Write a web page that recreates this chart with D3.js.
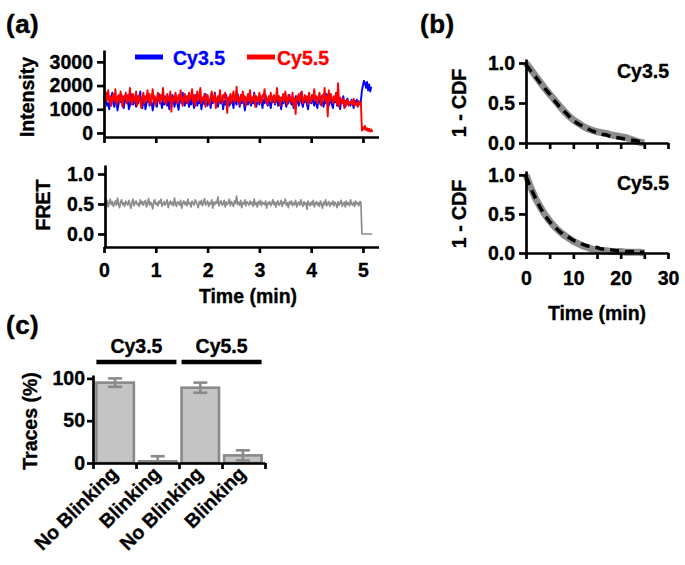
<!DOCTYPE html>
<html>
<head>
<meta charset="utf-8">
<script src="https://cdn.jsdelivr.net/npm/d3@7"></script>
<style>
  html, body { margin: 0; padding: 0; background: #fff; }
  svg text { font-family: "Liberation Sans", Arial, sans-serif; font-weight: bold; }
</style>
</head>
<body>
<svg id="chart" width="685" height="565"></svg>
<script>
// ---------------- DATA ----------------
// Panel (a): time traces, one sample every frameInterval minutes
const frameInterval = 0.02;
const cy35Intensity = [
1600,1350,1450,1150,1250,1000,1300,1500,1700,1250,1100,1400,1350,950,1200,1450,1300,1600,1150,1050,
1350,1500,1250,1400,1000,1150,1650,1350,1200,1450,1300,1100,1550,1250,1400,1750,1200,1050,1300,1450,
1000,1250,1350,1600,1150,1400,1300,950,1200,1500,1350,1100,1450,1650,1250,1300,1050,1400,1200,1550,
1300,1150,1450,1000,1350,1250,1600,1400,1100,1300,1500,1200,980,1350,1450,1250,1700,1300,1150,1400,
1250,1550,1100,1350,1200,1450,1300,1050,1400,1600,1150,1350,1250,1500,1000,1300,1450,1200,1650,1350,
1150,1400,1300,1050,1500,1250,1350,1700,1200,1400,1100,1300,1550,1250,1450,1000,1350,1200,1600,1300,
1400,1150,1250,1500,1350,1050,1450,1300,1200,1650,1350,1100,1400,1250,1550,1300,950,1350,1450,1200,
1500,1300,1150,1400,1250,1700,1350,1100,1300,1450,1200,1550,1350,1050,1400,1250,1600,1300,1150,1450,
1250,1050,1400,1300,1550,1200,1350,1650,1150,1300,1450,1000,1350,1250,1500,1300,1100,1450,1250,1600,
1350,1200,1450,1050,1300,1550,1250,1400,1150,1350,1700,1250,1100,1400,1300,1500,1200,1000,1350,1450,
1250,1600,1300,1150,1400,1250,1050,1450,1350,1200,1550,1300,1100,1400,1250,1650,1350,1150,1300,1450,
1200,1050,1400,1300,1500,1150,1350,1250,1000,1400,1300,1550,1200,1100,1350,1450,1250,1300,1150,1400,
1250,1050,1350,1200,1400,1150,1300,1250,1350,
1800,2000,2200,2100,1900,2150,1800,2050,1750,1950];
const cy55Intensity = [
1500,1250,1700,1400,1800,1300,1550,1150,1450,1650,1350,1850,1200,1500,1600,1300,1750,1400,1100,1550,
1450,1700,1250,1600,1350,1900,1400,1200,1650,1500,1300,1750,1150,1450,1600,1350,1050,1500,1700,1250,
1550,1400,1800,1300,1650,1200,1450,1850,1350,1550,1150,1400,1700,1500,1250,1600,1400,1900,1300,1500,
1200,1650,1450,1350,1750,900,1400,1550,1300,1700,1450,1250,1600,1400,1800,1350,1150,1500,1650,1300,
1550,1250,1700,1400,1500,1850,1300,1600,1150,1450,1750,1350,1550,1900,1250,1500,1400,1650,1100,1450,
1600,1350,1200,1550,1750,1400,1300,1650,1050,1450,1550,1300,1800,1400,1250,1600,1450,1700,1350,850,
1500,1400,1650,1250,1550,1750,1300,1450,1950,1350,1500,1200,1600,1400,1750,1300,1550,1150,1450,1650,
1350,1800,1250,1500,1400,1650,1100,1550,1450,1300,1700,1400,1250,1600,1500,1850,1350,1450,1200,1550,
1400,1700,1300,1500,1600,1250,1450,1900,1350,1550,1150,1500,1400,1650,1300,1750,1450,1200,1600,1400,
1500,1300,1700,1150,1450,800,1550,1400,1650,1300,1500,1750,1250,1450,1600,1350,1550,1200,1700,1400,
1300,1600,1450,1850,1350,1550,1250,1500,1700,1400,1150,1600,1450,1900,1300,1550,700,1800,1350,1650,
1450,1250,1550,1350,1700,1200,2100,1100,1500,1350,1250,1450,1050,1350,1200,1400,1150,1300,1250,1350,
1200,1450,1150,1300,1250,1100,1350,1200,1300,
100,250,150,300,120,200,80,180,60,150,40];
const fretValues = [
0.47,0.53,0.50,0.56,0.45,0.52,0.58,0.49,0.54,0.46,0.51,0.55,0.48,0.60,0.50,0.44,0.53,0.57,0.49,0.52,
0.46,0.55,0.51,0.48,0.56,0.50,0.43,0.53,0.58,0.47,0.52,0.55,0.49,0.51,0.46,0.57,0.50,0.54,0.48,0.53,
0.56,0.45,0.51,0.59,0.48,0.53,0.50,0.42,0.54,0.57,0.49,0.52,0.47,0.55,0.51,0.58,0.46,0.50,0.54,0.48,
0.52,0.57,0.44,0.51,0.55,0.49,0.53,0.47,0.60,0.50,0.46,0.54,0.52,0.48,0.56,0.43,0.51,0.55,0.49,0.53,
0.47,0.58,0.50,0.52,0.45,0.55,0.51,0.48,0.57,0.53,0.49,0.44,0.54,0.50,0.56,0.47,0.52,0.59,0.48,0.51,
0.55,0.46,0.52,0.50,0.57,0.43,0.53,0.49,0.54,0.51,0.62,0.47,0.52,0.55,0.48,0.50,0.56,0.45,0.53,0.49,
0.52,0.58,0.47,0.54,0.50,0.46,0.55,0.51,0.63,0.49,0.53,0.48,0.56,0.44,0.52,0.50,0.57,0.47,0.54,0.51,
0.48,0.55,0.50,0.53,0.46,0.58,0.49,0.52,0.45,0.54,0.50,0.56,0.47,0.53,0.51,0.49,0.55,0.43,0.52,0.50,
0.54,0.47,0.51,0.57,0.49,0.53,0.45,0.52,0.55,0.48,0.50,0.56,0.46,0.53,0.51,0.58,0.48,0.52,0.44,0.54,
0.50,0.55,0.47,0.52,0.49,0.56,0.45,0.51,0.53,0.48,0.57,0.50,0.46,0.54,0.49,0.52,0.41,0.55,0.50,0.47,
0.53,0.49,0.56,0.45,0.51,0.54,0.48,0.52,0.46,0.55,0.50,0.43,0.53,0.49,0.57,0.47,0.51,0.54,0.46,0.52,
0.49,0.55,0.47,0.53,0.50,0.44,0.54,0.48,0.52,0.56,0.46,0.51,0.53,0.45,0.55,0.49,0.52,0.47,0.57,0.50,
0.48,0.53,0.46,0.55,0.50,0.52,0.47,0.54,0.53,
0,0,0,0,0,0,0,0,0,0,0];
const timeTicksA = [0,1,2,3,4,5];
const intensityTicks = [0,1000,2000,3000];
const fretTicks = [0.0,0.5,1.0];

// Panel (b): survival (1 - CDF)
const cdfTime = [0,1,2,3,4,5,6,7,8,9,10,11,12,13,14,15,16,17,18,19,20,21,22,23,24,25];
const cy35Data = [1.0,0.92,0.84,0.76,0.68,0.61,0.54,0.47,0.40,0.34,0.29,0.25,0.21,0.18,0.16,0.14,0.13,0.12,0.10,0.09,0.08,0.07,0.05,0.03,0.01,0.0];
const cy35Fit  = [0.98,0.90,0.83,0.75,0.68,0.61,0.53,0.46,0.40,0.34,0.28,0.24,0.21,0.18,0.15,0.13,0.11,0.10,0.08,0.07,0.06,0.05,0.04,0.03,0.02,0.01];
const cy55Data = [1.0,0.84,0.70,0.59,0.49,0.41,0.34,0.28,0.23,0.19,0.15,0.12,0.09,0.07,0.05,0.04,0.03,0.03,0.02,0.02,0.02,0.01,0.01,0.01,0.01,0.0];
const cy55Fit  = [0.98,0.83,0.70,0.58,0.48,0.40,0.34,0.28,0.23,0.20,0.16,0.14,0.11,0.09,0.08,0.07,0.05,0.05,0.04,0.03,0.03,0.02,0.02,0.02,0.01,0.01];
const cdfTicksY = [0.0,0.5,1.0];
const cdfTicksX = [0,5,10,15,20,25,30];
const cdfLabelsX = [0,10,20,30];

// Panel (c): bar chart
const barCategories = ["No Blinking","Blinking","No Blinking","Blinking"];
const barGroups = ["Cy3.5","Cy3.5","Cy5.5","Cy5.5"];
const barMeans = [95, 2, 89, 9];
const barSD = [5, 6, 6, 6];
const tracesTicks = [0,50,100];

// ---------------- DRAWING ----------------
const svg = d3.select("#chart");
const AX = 2.7;   // axis stroke width
const FS = 19.5;  // font size

function styleAxis(g, fs) {
  g.selectAll("path.domain").attr("stroke", "#000").attr("stroke-width", AX);
  g.selectAll(".tick line").attr("stroke", "#000").attr("stroke-width", AX);
  g.selectAll(".tick text").attr("fill", "#000").attr("font-size", fs || FS)
    .attr("font-family", '"Liberation Sans", Arial, sans-serif').attr("font-weight", "bold")
    .attr("stroke", "#000").attr("stroke-width", 0.35);
}
function label(sel) { return sel.attr("font-size", FS).attr("stroke", "#000").attr("stroke-width", 0.35); }

// Panel labels
[["(a)", 6, 33], ["(b)", 420, 33], ["(c)", 6, 334]].forEach(([t, x, y]) => {
  svg.append("text").attr("x", x).attr("y", y).attr("font-size", 26)
    .attr("letter-spacing", 0.5).attr("stroke", "#000").attr("stroke-width", 0.4).text(t);
});

// ---- Panel (a) top: intensity ----
const xA = d3.scaleLinear().domain([0, 5.3]).range([104, 378.5]);
const yI = d3.scaleLinear().domain([-170, 3500]).range([137, 50]);

const lineI = d3.line().x((d, i) => xA(i * frameInterval)).y(d => yI(d));
svg.append("path").datum(cy35Intensity).attr("d", lineI)
  .attr("fill", "none").attr("stroke", "#0000ff").attr("stroke-width", 1.9).attr("stroke-linejoin", "round");
svg.append("path").datum(cy55Intensity).attr("d", lineI)
  .attr("fill", "none").attr("stroke", "#ff0000").attr("stroke-width", 1.9).attr("stroke-linejoin", "round");

const gxA1 = svg.append("g").attr("transform", "translate(0,137)")
  .call(d3.axisBottom(xA).tickValues(timeTicksA).tickSize(6).tickSizeOuter(0).tickFormat(""));
styleAxis(gxA1);
const gyI = svg.append("g").attr("transform", "translate(104,0)")
  .call(d3.axisLeft(yI).tickValues(intensityTicks).tickSize(7).tickPadding(4).tickSizeOuter(0).tickFormat(d3.format("d")));
styleAxis(gyI);

label(svg.append("text").attr("transform", "translate(34,97) rotate(-90)")
  .attr("text-anchor", "middle")).text("Intensity");

// legend
const legend = [["Cy3.5", "#0000ff", 135, 173], ["Cy5.5", "#ff0000", 247, 277]];
legend.forEach(([t, c, x, tx]) => {
  svg.append("line").attr("x1", x).attr("x2", x + 28).attr("y1", 57).attr("y2", 57)
    .attr("stroke", c).attr("stroke-width", 5);
  svg.append("text").attr("x", tx).attr("y", 65)
    .attr("font-size", FS).attr("fill", c).attr("stroke", c).attr("stroke-width", 0.35).text(t);
});

// ---- Panel (a) bottom: FRET ----
const yF = d3.scaleLinear().domain([-0.217, 1.15]).range([247, 165]);
const lineF = d3.line().x((d, i) => xA(i * frameInterval)).y(d => yF(d));
svg.append("path").datum(fretValues).attr("d", lineF)
  .attr("fill", "none").attr("stroke", "#8c8c8c").attr("stroke-width", 1.7).attr("stroke-linejoin", "round");

const gxA2 = svg.append("g").attr("transform", "translate(0,247)")
  .call(d3.axisBottom(xA).tickValues(timeTicksA).tickSize(6).tickPadding(10).tickSizeOuter(0).tickFormat(d3.format("d")));
styleAxis(gxA2);
const gyF = svg.append("g").attr("transform", "translate(105,0)")
  .call(d3.axisLeft(yF).tickValues(fretTicks).tickSize(7).tickPadding(4).tickSizeOuter(0).tickFormat(d3.format(".1f")));
styleAxis(gyF);

label(svg.append("text").attr("transform", "translate(50,205) rotate(-90)")
  .attr("text-anchor", "middle")).text("FRET");
label(svg.append("text").attr("x", 248).attr("y", 303).attr("text-anchor", "middle")).text("Time (min)");

// ---- Panel (b) ----
const xB = d3.scaleLinear().domain([0, 30]).range([526, 668]);
function cdfPanel(yTop, yBottom, dataArr, fitArr, name, showLabels) {
  const y = d3.scaleLinear().domain([0, 1.05]).range([yBottom, yTop]);
  const ln = d3.line().x((d, i) => xB(cdfTime[i])).y(d => y(d));
  svg.append("path").datum(dataArr).attr("d", ln).attr("fill", "none")
    .attr("stroke", "#8c8c8c").attr("stroke-width", 7).attr("stroke-linejoin", "round");
  svg.append("path").datum(fitArr).attr("d", ln).attr("fill", "none")
    .attr("stroke", "#000").attr("stroke-width", 3.5).attr("stroke-dasharray", "9,6");
  const gx = svg.append("g").attr("transform", `translate(0,${yBottom})`)
    .call(d3.axisBottom(xB).tickValues(cdfTicksX).tickSize(6).tickPadding(12).tickSizeOuter(0)
      .tickFormat(d => showLabels && cdfLabelsX.includes(d) ? d : ""));
  styleAxis(gx);
  const gy = svg.append("g").attr("transform", "translate(526,0)")
    .call(d3.axisLeft(y).tickValues(cdfTicksY).tickSize(7).tickPadding(4).tickSizeOuter(0).tickFormat(d3.format(".1f")));
  styleAxis(gy);
  label(svg.append("text").attr("transform", `translate(466,${(yTop + yBottom) / 2 + 2}) rotate(-90)`)
    .attr("text-anchor", "middle")).text("1 - CDF");
  label(svg.append("text").attr("x", 669).attr("y", y(0.9) + 7).attr("text-anchor", "end")).text(name);
}
cdfPanel(59, 143, cy35Data, cy35Fit, "Cy3.5", false);
cdfPanel(171, 253, cy55Data, cy55Fit, "Cy5.5", true);
label(svg.append("text").attr("x", 597).attr("y", 320).attr("text-anchor", "middle")).text("Time (min)");

// ---- Panel (c) ----
const xC = d3.scaleBand().domain(d3.range(barCategories.length)).range([93, 265]).paddingInner(0.12).paddingOuter(0.08);
const xCb = d3.scaleLinear().domain([0, barCategories.length]).range([93, 265]);
const yC = d3.scaleLinear().domain([0, 104]).range([463, 375]);

svg.append("g").selectAll("rect").data(barMeans).join("rect")
  .attr("x", (d, i) => xC(i)).attr("width", xC.bandwidth())
  .attr("y", d => yC(d)).attr("height", d => yC(0) - yC(d))
  .attr("fill", "#c4c4c4").attr("stroke", "#8a8a8a").attr("stroke-width", 2.6);

// error bars
const eb = svg.append("g").attr("stroke", "#8a8a8a").attr("stroke-width", 2.6);
barMeans.forEach((m, i) => {
  const cx = xC(i) + xC.bandwidth() / 2;
  const lo = Math.max(0, m - barSD[i]), hi = m + barSD[i];
  eb.append("line").attr("x1", cx).attr("x2", cx).attr("y1", yC(lo)).attr("y2", yC(hi));
  eb.append("line").attr("x1", cx - 7).attr("x2", cx + 7).attr("y1", yC(hi)).attr("y2", yC(hi));
  if (m - barSD[i] > 0)
    eb.append("line").attr("x1", cx - 7).attr("x2", cx + 7).attr("y1", yC(lo)).attr("y2", yC(lo));
});

const gxC = svg.append("g").attr("transform", "translate(0,463)")
  .call(d3.axisBottom(xCb).tickValues(d3.range(barCategories.length + 1)).tickSize(6).tickSizeOuter(0).tickFormat(""));
styleAxis(gxC);
const gyC = svg.append("g").attr("transform", "translate(93,0)")
  .call(d3.axisLeft(yC).tickValues(tracesTicks).tickSize(6).tickPadding(2).tickSizeOuter(0));
styleAxis(gyC);

barCategories.forEach((c, i) => {
  const cx = xC(i) + xC.bandwidth() / 2;
  label(svg.append("text").attr("transform", `translate(${cx + 4},475) rotate(-45)`)
    .attr("text-anchor", "end")).text(c);
});

label(svg.append("text").attr("transform", "translate(37,421) rotate(-90)")
  .attr("text-anchor", "middle")).text("Traces (%)");

// group brackets
const groupNames = Array.from(new Set(barGroups));
groupNames.forEach(gname => {
  const idx = barGroups.map((g, i) => g === gname ? i : -1).filter(i => i >= 0);
  const x1 = xC(idx[0]), x2 = xC(idx[idx.length - 1]) + xC.bandwidth();
  svg.append("line").attr("x1", x1).attr("x2", x2).attr("y1", 362).attr("y2", 362)
    .attr("stroke", "#000").attr("stroke-width", 4.5);
  label(svg.append("text").attr("x", (x1 + x2) / 2).attr("y", 353).attr("text-anchor", "middle")).text(gname);
});
</script>
</body>
</html>
